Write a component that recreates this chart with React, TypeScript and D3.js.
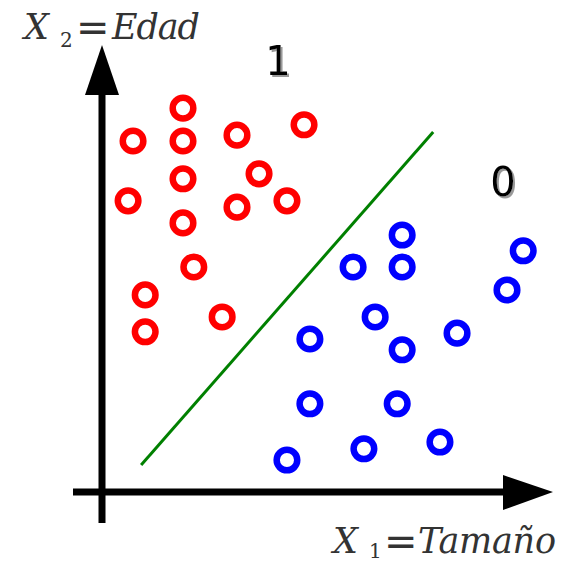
import React from "react";
import * as d3 from "d3";

// Class 1 (red) and class 0 (blue) samples: [tamaño, edad]
const redX = [18.0, 6.9, 18.0, 30.0, 44.9, 18.0, 34.9, 5.8, 30.0, 41.1, 18.0, 20.4, 9.6, 9.6, 26.7];
const redY = [85.3, 78.0, 78.0, 79.3, 81.6, 69.6, 70.7, 64.7, 63.3, 64.7, 59.8, 50.0, 43.8, 35.6, 38.9];
const blueX = [66.7, 55.8, 66.7, 93.6, 90.0, 60.7, 78.9, 46.2, 66.7, 46.2, 65.6, 75.1, 58.2, 41.1];
const blueY = [57.1, 50.0, 50.0, 53.6, 44.9, 38.9, 35.3, 34.0, 31.6, 19.6, 19.6, 11.1, 9.6, 7.1];
// Decision boundary endpoints
const lineX = [8.7, 73.6];
const lineY = [6.0, 80.0];

const W = 561;
const H = 563;

export default function App() {
  const x = d3.scaleLinear().domain([0, 100]).range([102, 552]);
  const y = d3.scaleLinear().domain([0, 100]).range([492, 42]);
  const red = redX.map((v, i) => [v, redY[i]]);
  const blue = blueX.map((v, i) => [v, blueY[i]]);
  const boundary = d3.line<number>().x((v) => x(v)).y((_, i) => y(lineY[i]))(lineX) || "";

  const serif = "'DejaVu Serif', serif";
  const sans = "'DejaVu Sans', sans-serif";
  const textCol = "#333";

  return (
    <svg width={W} height={H} style={{ position: "absolute", left: 0, top: 0 }}>
      <defs>
        <filter id="shadow" x="-20%" y="-20%" width="160%" height="160%">
          <feDropShadow dx={2} dy={2} stdDeviation={0.6} floodColor="#999" floodOpacity={1} />
        </filter>
      </defs>
      <rect width={W} height={H} fill="#fff" />
      {/* axes */}
      <line x1={102} y1={523} x2={102} y2={90} stroke="#000" strokeWidth={7} />
      <path d="M102,45 L85,95 L119,95 Z" fill="#000" />
      <line x1={73} y1={492} x2={508} y2={492} stroke="#000" strokeWidth={7} />
      <path d="M553,492 L503,475 L503,510 Z" fill="#000" />
      {/* boundary */}
      <path d={boundary} stroke="#008000" strokeWidth={3} fill="none" />
      {red.map((d, i) => (
        <circle key={"r" + i} cx={x(d[0])} cy={y(d[1])} r={10.3} fill="none" stroke="#ff0000" strokeWidth={6.5} />
      ))}
      {blue.map((d, i) => (
        <circle key={"b" + i} cx={x(d[0])} cy={y(d[1])} r={10.3} fill="none" stroke="#0000ff" strokeWidth={6.5} />
      ))}
      {/* class labels */}
      <text x={278} y={75} fontFamily={sans} fontSize={40} fill="#000" textAnchor="middle" filter="url(#shadow)">1</text>
      <text x={503} y={196} fontFamily={sans} fontSize={40} fill="#000" textAnchor="middle" filter="url(#shadow)">0</text>
      {/* axis titles */}
      <g fill={textCol}>
        <text x={24} y={39} fontFamily={serif} fontStyle="italic" fontSize={35}>X</text>
        <text x={60} y={47} fontFamily={serif} fontSize={20}>2</text>
        <text x={76} y={41} fontFamily={sans} fontSize={40}>=</text>
        <text x={112} y={39} fontFamily={serif} fontStyle="italic" fontSize={35} textLength={88}>Edad</text>
        <text x={333} y={553} fontFamily={serif} fontStyle="italic" fontSize={35}>X</text>
        <text x={369} y={558} fontFamily={serif} fontSize={20}>1</text>
        <text x={384} y={555} fontFamily={sans} fontSize={40}>=</text>
        <text x={418} y={553} fontFamily={serif} fontStyle="italic" fontSize={35} textLength={138}>Tamaño</text>
      </g>
    </svg>
  );
}
